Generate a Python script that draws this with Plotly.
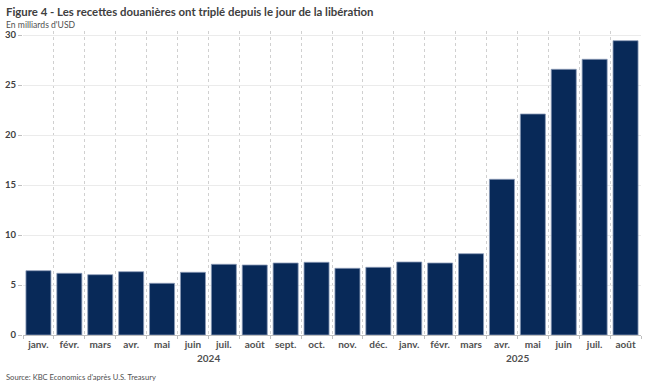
import plotly.graph_objects as go

months = ["janv.", "févr.", "mars", "avr.", "mai", "juin", "juil.", "août", "sept.", "oct.", "nov.", "déc.",
          "janv.", "févr.", "mars", "avr.", "mai", "juin", "juil.", "août"]
years = ["2024"] * 12 + ["2025"] * 8
values = [6.43, 6.17, 6.03, 6.33, 5.17, 6.27, 7.07, 7.0, 7.2, 7.27, 6.67, 6.77,
          7.3, 7.2, 8.13, 15.57, 22.1, 26.57, 27.57, 29.43]
y_ticks = [0, 5, 10, 15, 20, 25, 30]

title = "Figure 4 - Les recettes douanières ont triplé depuis le jour de la libération"
subtitle = "En milliards d'USD"
source = "Source: KBC Economics d'après U.S. Treasury"

FONT = "Lato, Noto Sans, sans-serif"
idx = list(range(len(values)))

fig = go.Figure(go.Bar(
    x=idx, y=values,
    marker=dict(color="#082958", line=dict(color="#8a9bb8", width=0.8)),
    width=0.81,
))

# year labels centred under each year's months
year_order = []
for y in years:
    if y not in year_order:
        year_order.append(y)
annotations = []
for yr in year_order:
    pos = [i for i, y in enumerate(years) if y == yr]
    annotations.append(dict(x=sum(pos) / len(pos), y=0, xref="x", yref="y", yshift=-23,
                            text="<b>" + yr + "</b>", showarrow=False, yanchor="middle",
                            font=dict(family=FONT, size=10, color="#505050")))

annotations += [
    dict(x=0, y=1, xref="paper", yref="paper", xanchor="left", yanchor="middle",
         xshift=-19, yshift=20, text="<b>" + title + "</b>", showarrow=False,
         font=dict(family=FONT, size=11.4, color="#404040")),
    dict(x=0, y=1, xref="paper", yref="paper", xanchor="left", yanchor="middle",
         xshift=-19, yshift=6, text=subtitle, showarrow=False,
         font=dict(family=FONT, size=8.6, color="#505050")),
    dict(x=0, y=0, xref="paper", yref="paper", xanchor="left", yanchor="middle",
         xshift=-19, yshift=-42, text=source, showarrow=False,
         font=dict(family=FONT, size=7.6, color="#505050")),
]

boundaries = [i - 0.5 for i in idx] + [idx[-1] + 0.5]

fig.update_layout(
    width=652, height=388,
    margin=dict(l=23, r=11, t=31, b=53),
    paper_bgcolor="white", plot_bgcolor="white",
    showlegend=False,
    annotations=annotations,
    xaxis=dict(
        automargin=False,
        range=[-0.5, len(values) - 0.5],
        tickmode="array", tickvals=idx, ticktext=["<b>" + m + "</b>" for m in months],
        showgrid=False, ticks="", tickfont=dict(family=FONT, size=10, color="#505050"),
        showline=True, linecolor="#bfbfbf", linewidth=1,
        zeroline=False,
        minor=dict(tickmode="array", tickvals=boundaries, showgrid=True,
                   gridcolor="#d0d0d0", griddash="dot", gridwidth=1,
                   ticks="outside", ticklen=3, tickcolor="#bfbfbf"),
    ),
    yaxis=dict(
        automargin=False,
        range=[0, 30.4], tickmode="array", tickvals=y_ticks,
        ticktext=["<b>%d</b>" % v for v in y_ticks],
        showgrid=True, gridcolor="#ebebeb", gridwidth=1,
        ticks="outside", ticklen=4, tickcolor="#bfbfbf",
        tickfont=dict(family=FONT, size=9.5, color="#404040"),
        zeroline=False, showline=False,
    ),
)

fig.write_html("out.html", config={"displayModeBar": False},
               post_script="document.body.style.margin='0';")
